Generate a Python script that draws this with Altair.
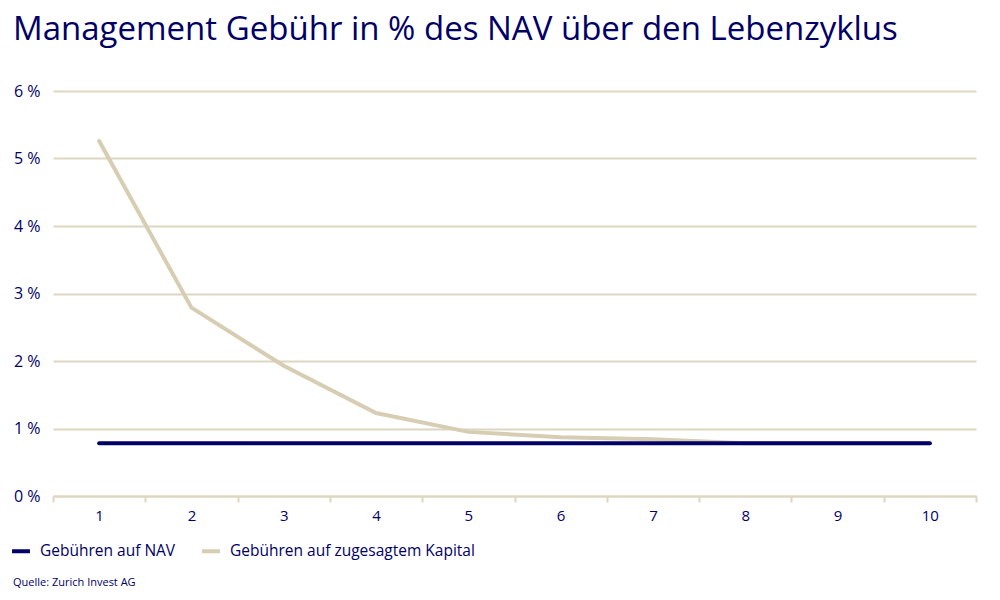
import altair as alt
import pandas as pd

# values (fee in % of NAV per year)
years = [1, 2, 3, 4, 5, 6, 7, 8, 9, 10]
nav_fee = [0.78, 0.78, 0.78, 0.78, 0.78, 0.78, 0.78, 0.78, 0.78, 0.78]
committed_fee = [5.26, 2.79, 1.93, 1.23, 0.95, 0.87, 0.84, 0.78, 0.78, 0.78]
series = ["Gebühren auf NAV", "Gebühren auf zugesagtem Kapital"]

NAVY = "#000066"
BEIGE = "#d6cdb3"
GRID = "#ddd6c1"
FONT = "Open Sans"

rows = []
for y, a, b in zip(years, nav_fee, committed_fee):
    rows.append({"Jahr": y, "Serie": series[0], "Wert": a})
    rows.append({"Jahr": y, "Serie": series[1], "Wert": b})
data = pd.DataFrame(rows)

base = (
    alt.Chart(data)
    .mark_line(strokeWidth=4, strokeCap="round")
    .encode(
        alt.X(
            "Jahr:O",
            title=None,
            bandPosition=0.5,
            scale=alt.Scale(type="band", paddingInner=0, paddingOuter=0),
            axis=alt.Axis(
                tickBand="extent",
                labelAngle=0,
                labelFontSize=15,
                labelColor=NAVY,
                labelFont=FONT,
                labelPadding=6,
                domainColor=GRID,
                domainWidth=2,
                tickColor=GRID,
                tickWidth=2,
                tickSize=6,
                grid=False,
            ),
        ),
        alt.Y(
            "Wert:Q",
            title=None,
            scale=alt.Scale(domain=[0, 6]),
            axis=alt.Axis(
                values=[0, 1, 2, 3, 4, 5, 6],
                labelExpr="datum.value + ' %'",
                labelFontSize=16,
                labelColor=NAVY,
                labelFont=FONT,
                labelPadding=13,
                domain=False,
                ticks=False,
                gridColor=GRID,
                gridWidth=2,
            ),
        ),
        alt.Color(
            "Serie:N",
            sort=series,
            scale=alt.Scale(domain=series, range=[NAVY, BEIGE]),
            legend=alt.Legend(
                title=None,
                orient="none",
                direction="horizontal",
                legendX=-43,
                legendY=449,
                symbolType="stroke",
                symbolStrokeWidth=4,
                symbolSize=320,
                labelFontSize=15.5,
                labelColor=NAVY,
                labelFont=FONT,
                labelLimit=0,
                labelOffset=8,
                columnPadding=18,
            ),
        ),
    )
)

# beige drawn first, navy on top
committed_line = base.transform_filter(alt.datum.Serie == series[1])
nav_line = base.transform_filter(alt.datum.Serie == series[0])

source = (
    alt.Chart(pd.DataFrame({"q": ["Quelle: Zurich Invest AG"]}))
    .mark_text(align="left", baseline="middle", fontSize=11, font=FONT, color=NAVY)
    .encode(x=alt.value(-40), y=alt.value(492), text="q:N")
)

chart = (
    alt.layer(committed_line, nav_line, source)
    .properties(
        width=923,
        height=405,
        autosize=alt.AutoSizeParams(type="none"),
        padding={"left": 45, "top": 83, "right": 16, "bottom": 96},
        title=alt.Title(
            "Management Gebühr in % des NAV über den Lebenzyklus",
            anchor="start",
            fontSize=33,
            fontWeight="normal",
            font=FONT,
            color=NAVY,
            dx=3,
            offset=36,
        ),
    )
    .configure_view(stroke=None)
)

chart.save("out.html", embed_options={"renderer": "svg", "actions": False})
